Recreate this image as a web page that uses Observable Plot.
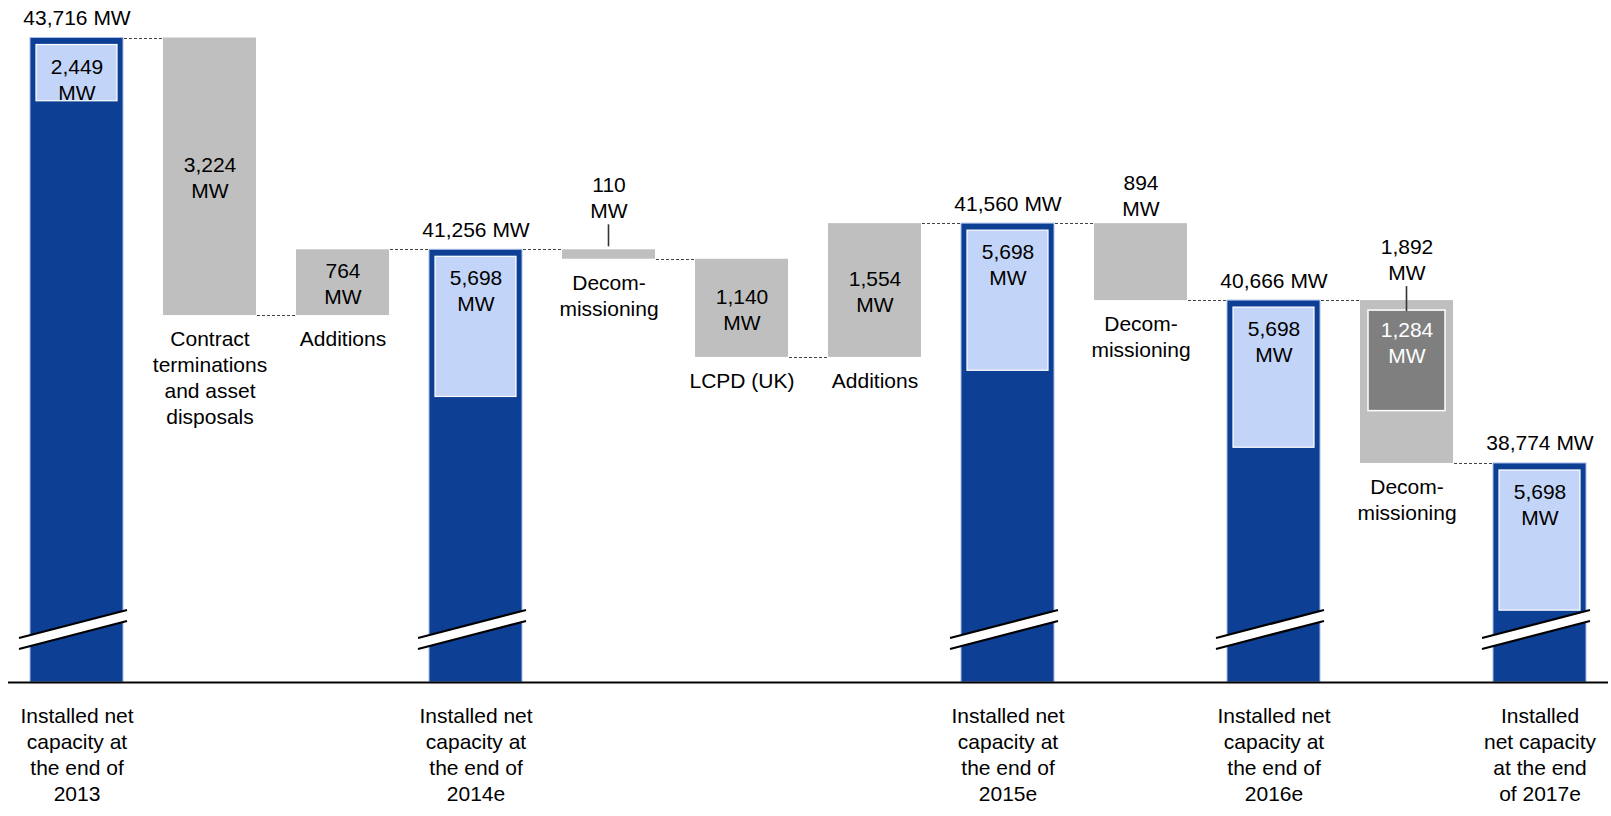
<!DOCTYPE html>
<html>
<head>
<meta charset="utf-8">
<script src="https://cdn.jsdelivr.net/npm/d3@7"></script>
<script src="https://cdn.jsdelivr.net/npm/@observablehq/plot@0.6"></script>
<style>
  html, body { margin: 0; padding: 0; background: #fff; overflow: hidden; }
</style>
</head>
<body>
<div id="chart"></div>
<script>
// ---------- data ----------
const steps = [
  "Installed net\ncapacity at\nthe end of\n2013",
  "Contract\nterminations\nand asset\ndisposals",
  "Additions",
  "Installed net\ncapacity at\nthe end of\n2014e",
  "Decom-\nmissioning",
  "LCPD (UK)",
  "Additions",
  "Installed net\ncapacity at\nthe end of\n2015e",
  "Decom-\nmissioning",
  "Installed net\ncapacity at\nthe end of\n2016e",
  "Decom-\nmissioning",
  "Installed\nnet capacity\nat the end\nof 2017e"
];
const kinds      = ["total", "change", "change", "total", "change", "change", "change", "total", "change", "total", "change", "total"];
const amounts    = [43716, -3224, 764, 41256, -110, -1140, 1554, 41560, -894, 40666, -1892, 38774];
const subAmounts = [2449, null, null, 5698, null, null, null, 5698, null, 5698, 1284, 5698];
const unit = "MW";
const axisStart = 36230; // value where the broken axis starts

// ---------- display hints ----------
const valueLabelAbove = [false, false, false, false, true, false, false, false, true, false, true, false];
const subBoxScale = 0.3;   // sub boxes of totals are drawn on a compressed scale
const FONT = "'Liberation Sans', Arial, Helvetica, sans-serif";
const FS = 21;
const LH = 1.24;
const BLUE = "#0d3f95", LIGHT = "#c2d5f8", GRAY = "#bfbfbf", DARK = "#7f7f7f";

// ---------- derived table ----------
let running = 0;
const rows = steps.map((label, i) => {
  const kind = kinds[i], v = amounts[i];
  let lo, hi;
  if (kind === "total") { lo = axisStart; hi = v; running = v; }
  else { const s = running, e = running + v; lo = Math.min(s, e); hi = Math.max(s, e); running = e; }
  return {key: String(i), i, label, kind, value: v, lo, hi, level: running, sub: subAmounts[i], above: valueLabelAbove[i]};
});
const totals = rows.filter(d => d.kind === "total");
const changes = rows.filter(d => d.kind === "change");
const fmt = d3.format(",");

// ---------- custom decorations (connectors, leaders, axis breaks) ----------
function decorations(index, scales) {
  const x = scales.x, y = scales.y;
  let bw = typeof x.bandwidth === "function" ? x.bandwidth() : x.bandwidth;
  if (!bw) bw = (x(rows[1].key) - x(rows[0].key)) * 0.7;
  const g = d3.create("svg:g");
  // dashed connectors
  for (let k = 0; k < rows.length - 1; k++) {
    const a = rows[k], b = rows[k + 1];
    const yy = Math.round(y(a.level)) + 0.5;
    g.append("line")
      .attr("x1", x(a.key) + bw + 1).attr("x2", x(b.key) - 1)
      .attr("y1", yy).attr("y2", yy)
      .attr("stroke", "#444").attr("stroke-width", 1.2).attr("stroke-dasharray", "3,2");
  }
  // leader lines for labels placed above a box
  for (const d of changes) {
    if (!d.above) continue;
    const h = y(d.lo) - y(d.hi);
    if (h < 20 || d.sub) {
      const cx = x(d.key) + bw / 2;
      const top = y(d.hi);
      g.append("line")
        .attr("x1", cx).attr("x2", cx)
        .attr("y1", d.sub ? top - 14 : top - 25).attr("y2", d.sub ? top + 11 : top - 3)
        .attr("stroke", "#333").attr("stroke-width", 1.6);
    }
  }
  // axis breaks on the total bars
  const base = y(axisStart);
  for (const d of totals) {
    const xa = x(d.key) - 11, xb = x(d.key) + bw + 4;
    const p = [[xa, base - 44], [xb, base - 72], [xb, base - 61], [xa, base - 33]];
    g.append("polygon").attr("points", p.map(q => q.join(",")).join(" ")).attr("fill", "white");
    g.append("line").attr("x1", xa).attr("y1", base - 44).attr("x2", xb).attr("y2", base - 72)
      .attr("stroke", "black").attr("stroke-width", 2.2);
    g.append("line").attr("x1", xa).attr("y1", base - 33).attr("x2", xb).attr("y2", base - 61)
      .attr("stroke", "black").attr("stroke-width", 2.2);
  }
  return g.node();
}

const textBase = {fontFamily: FONT, fontSize: FS, lineHeight: LH, fill: "#000", textAnchor: "middle"};
const isThin = d => d.above && !d.sub && (d.hi - d.lo) < 250;

const chart = Plot.plot({
  width: 1611,
  height: 816,
  marginTop: 37.5,
  marginBottom: 134,
  marginLeft: 8,
  marginRight: 3,
  style: {fontFamily: FONT, fontSize: FS + "px", background: "white", color: "#000"},
  x: {type: "band", domain: rows.map(d => d.key), paddingInner: 0.3, paddingOuter: 0.15, align: 0.5},
  y: {domain: [axisStart, d3.max(rows, d => d.hi)], axis: null},
  marks: [
    // main bars
    Plot.barY(totals, {x: "key", y1: "lo", y2: "hi", fill: BLUE, stroke: "#a9bfe8", strokeWidth: 1}),
    Plot.barY(changes, {x: "key", y1: "lo", y2: "hi", fill: GRAY}),
    // inner boxes of totals
    Plot.barY(totals.filter(d => d.sub), {
      x: "key", y1: "hi", y2: d => d.hi - d.sub * subBoxScale,
      fill: LIGHT, stroke: "white", strokeWidth: 1.2, insetTop: 7, insetLeft: 6, insetRight: 6
    }),
    // inner box of a change
    Plot.barY(changes.filter(d => d.sub), {
      x: "key", y1: "hi", y2: d => d.hi - d.sub,
      fill: DARK, stroke: "white", strokeWidth: 1.5, insetTop: 10, insetLeft: 8, insetRight: 8
    }),
    Plot.ruleY([axisStart], {stroke: "black", strokeWidth: 2.2}),
    decorations,
    // total value labels
    Plot.text(totals, {...textBase, x: "key", y: "hi", text: d => `${fmt(d.value)} ${unit}`, lineAnchor: "bottom", dy: -13}),
    // sub labels of totals
    Plot.text(totals.filter(d => d.sub), {...textBase, x: "key", y: "hi", text: d => `${fmt(d.sub)}\n${unit}`, lineAnchor: "top", dy: 17}),
    // change value labels inside
    Plot.text(changes.filter(d => !d.above), {...textBase, x: "key", y: d => (d.lo + d.hi) / 2, text: d => `${fmt(Math.abs(d.value))}\n${unit}`, lineAnchor: "middle"}),
    // change value labels above (plain)
    Plot.text(changes.filter(d => d.above && !d.sub && !isThin(d)), {
      ...textBase, x: "key", y: "hi", text: d => `${fmt(Math.abs(d.value))}\n${unit}`, lineAnchor: "bottom", dy: -8
    }),
    // change value labels above thin boxes (with leader)
    Plot.text(changes.filter(isThin), {
      ...textBase, x: "key", y: "hi", text: d => `${fmt(Math.abs(d.value))}\n${unit}`, lineAnchor: "bottom", dy: -32
    }),
    // change value labels above boxes with an inner part (with leader)
    Plot.text(changes.filter(d => d.above && d.sub), {
      ...textBase, x: "key", y: "hi", text: d => `${fmt(Math.abs(d.value))}\n${unit}`, lineAnchor: "bottom", dy: -21
    }),
    // sub label of change (white)
    Plot.text(changes.filter(d => d.sub), {...textBase, x: "key", y: "hi", text: d => `${fmt(d.sub)}\n${unit}`, lineAnchor: "top", dy: 18, fill: "white"}),
    // change category labels
    Plot.text(changes, {...textBase, x: "key", y: "lo", text: "label", lineAnchor: "top", dy: 12}),
    // category axis for totals
    Plot.axisX({
      ticks: totals.map(d => d.key),
      tickFormat: k => rows[+k].label,
      tickSize: 0, tickPadding: 22, label: null,
      fontSize: FS, lineHeight: LH, fill: "#000", fontFamily: FONT
    })
  ]
});
document.getElementById("chart").appendChild(chart);
</script>
</body>
</html>
